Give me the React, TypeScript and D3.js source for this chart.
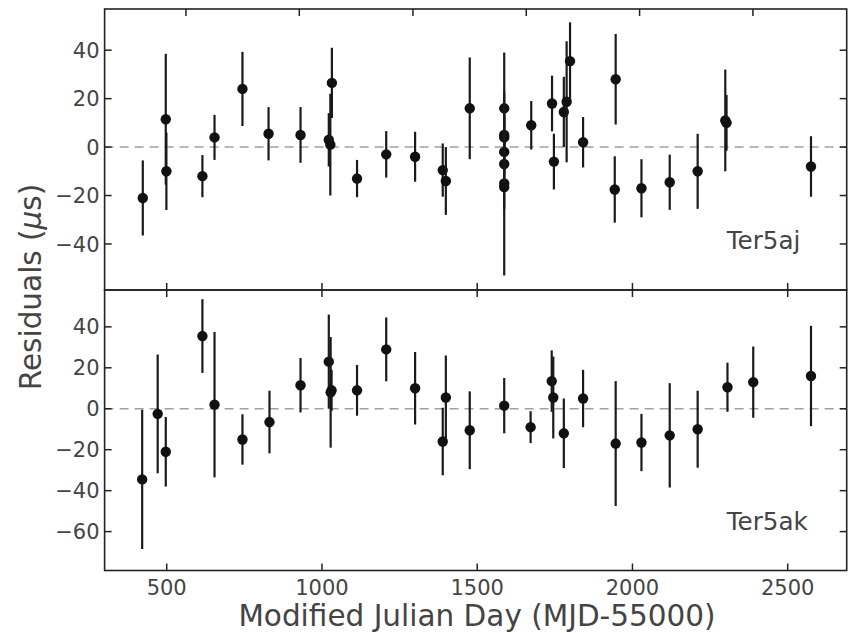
import React from "react";
import * as d3 from "d3";

// ---- data ----
const ajX = [423, 497, 499, 615, 654, 744, 828, 931, 1022, 1027, 1032, 1113, 1207, 1300, 1389, 1399, 1476,
  1587, 1587, 1587, 1587, 1587, 1587, 1587, 1674, 1741, 1747, 1779, 1788, 1799, 1841, 1946, 1943, 2029, 2120,
  2210, 2299, 2303, 2575];
const ajY = [-21, 11.5, -10, -12, 4, 24, 5.5, 5, 3, 1, 26.5, -13, -3, -4, -9.5, -14, 16,
  16, 5, 4, -2, -7, -15, -16.5, 9, 18, -6, 14.5, 18.7, 35.5, 2, 28, -17.5, -17, -14.5,
  -10, 11, 10, -8];
const ajErr = [15.5, 27, 16, 8.7, 9.3, 15.3, 11, 11.5, 11, 21, 14.5, 7.7, 9.6, 10.3, 11, 14, 21,
  23, 8, 10, 9, 11, 38, 9, 10, 11.5, 11.5, 14.5, 25, 16, 10.4, 18.7, 13.7, 12, 11.4,
  15.5, 21, 11.5, 12.5];

const akX = [421, 471, 497, 615, 654, 744, 831, 931, 1022, 1028, 1031, 1113, 1207, 1300, 1389, 1399, 1476,
  1587, 1672, 1740, 1745, 1779, 1841, 1946, 2029, 2120, 2210, 2306, 2389, 2575];
const akY = [-34.5, -2.5, -21, 35.5, 2, -15, -6.5, 11.5, 23, 8, 9, 9, 29, 10, -16, 5.5, -10.5,
  1.5, -9, 13.5, 5.5, -12, 5, -17, -16.5, -13, -10, 10.5, 13, 16];
const akErr = [34, 29, 17, 18, 35.5, 12.3, 15.3, 13.3, 23, 27, 10, 12.4, 15.6, 17.7, 16.5, 20.5, 19,
  13.5, 7.8, 15, 20, 17, 14, 30.5, 14, 25.5, 18.8, 12, 17.4, 24.5];

const xTicks = [500, 1000, 1500, 2000, 2500];
const yearTicks = [562, 927, 1293, 1658, 2023, 2388];
const ajYTicks = [-40, -20, 0, 20, 40];
const akYTicks = [-60, -40, -20, 0, 20, 40];

const W = 848, H = 633;
const L = 104.6, R = 846.7;
const TEXT = "#444";
const FONT = "DejaVu Sans, sans-serif";

const x = d3.scaleLinear().domain([300, 2690]).range([L, R]);
const yTop = d3.scaleLinear().domain([-59, 57]).range([290, 9]);
const yBot = d3.scaleLinear().domain([-79, 58]).range([570.5, 290]);

const fmt = (v: number) => (v < 0 ? "\u2212" + Math.abs(v) : String(v));

function Panel({ ys, X, Y, E, yTicks, label, topTicks, showXLabels }: any) {
  const [y0, y1] = ys.range();
  const tl = 7;
  return (
    <g>
      <line x1={L} x2={R} y1={ys(0)} y2={ys(0)} stroke="#a0a0a0" strokeWidth={1.5} strokeDasharray="9,6" />
      {X.map((xv: number, i: number) => (
        <g key={i}>
          <line x1={x(xv)} x2={x(xv)} y1={ys(Y[i] - E[i])} y2={ys(Y[i] + E[i])} stroke="#1a1a1a" strokeWidth={2.2} />
          <circle cx={x(xv)} cy={ys(Y[i])} r={5.2} fill="#111" />
        </g>
      ))}
      {yTicks.map((t: number) => (
        <g key={t}>
          <line x1={L} x2={L + tl} y1={ys(t)} y2={ys(t)} stroke="#222" strokeWidth={1.5} />
          <line x1={R} x2={R - tl} y1={ys(t)} y2={ys(t)} stroke="#222" strokeWidth={1.5} />
          <text x={L - 5} y={ys(t)} dy="0.36em" textAnchor="end" fontSize={21} fill={TEXT} fontFamily={FONT}>
            {fmt(t)}
          </text>
        </g>
      ))}
      {xTicks.map((t) => (
        <line key={"b" + t} x1={x(t)} x2={x(t)} y1={y0} y2={y0 - tl} stroke="#222" strokeWidth={1.5} />
      ))}
      {topTicks.map((t: number) => (
        <line key={"t" + t} x1={x(t)} x2={x(t)} y1={y1} y2={y1 + tl} stroke="#222" strokeWidth={1.5} />
      ))}
      {showXLabels &&
        xTicks.map((t) => (
          <text key={"l" + t} x={x(t)} y={y0 + 24.5} textAnchor="middle" fontSize={21} fill={TEXT} fontFamily={FONT}>
            {t}
          </text>
        ))}
      <rect x={L} y={y1} width={R - L} height={y0 - y1} fill="none" stroke="#222" strokeWidth={1.6} />
      <text x={726.7} y={y0 - 41} fontSize={24.6} fill={TEXT} fontFamily={FONT}>
        {label}
      </text>
    </g>
  );
}

export default function App() {
  return (
    <div style={{ position: "absolute", left: 0, top: 0 }}>
      <svg width={W} height={H} style={{ display: "block", background: "#fff" }}>
        <rect width={W} height={H} fill="#fff" />
        <Panel ys={yTop} X={ajX} Y={ajY} E={ajErr} yTicks={ajYTicks} label="Ter5aj" topTicks={yearTicks} showXLabels={false} />
        <Panel ys={yBot} X={akX} Y={akY} E={akErr} yTicks={akYTicks} label="Ter5ak" topTicks={xTicks} showXLabels={true} />
        <text x={477} y={626} textAnchor="middle" fontSize={29.5} fill={TEXT} fontFamily={FONT}>
          Modified Julian Day (MJD-55000)
        </text>
        <text transform="translate(40.5,287) rotate(-90)" textAnchor="middle" fontSize={29.5} fill={TEXT} fontFamily={FONT}>
          Residuals (<tspan fontStyle="italic">μ</tspan>s)
        </text>
      </svg>
    </div>
  );
}
